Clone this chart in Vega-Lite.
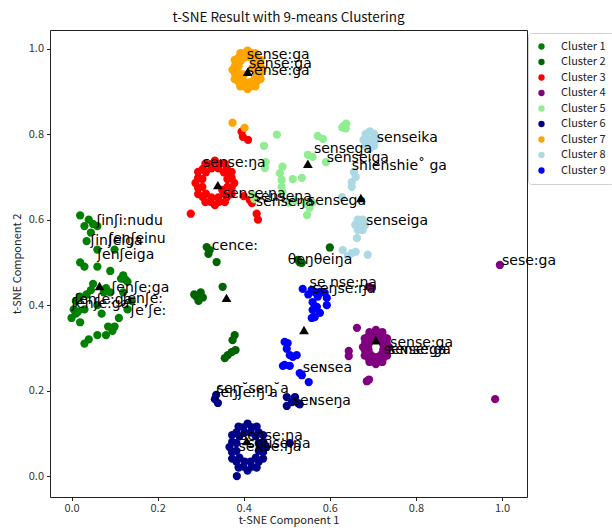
{
  "$schema": "https://vega.github.io/schema/vega-lite/v6.json",
  "autosize": "none",
  "padding": {"left": 50, "top": 30, "right": 85, "bottom": 31},
  "width": 477,
  "height": 467,
  "background": "white",
  "config": {
    "view": {"stroke": "#222", "strokeWidth": 1},
    "font": "Noto Sans CJK JP",
    "axis": {"grid": false, "domain": false, "tickColor": "#222", "tickSize": 3.5, "labelColor": "#333", "titleColor": "#222", "labelFontSize": 11, "titleFontSize": 11, "titleFontWeight": "normal", "labelFont": "Noto Sans CJK JP", "titleFont": "Noto Sans CJK JP"}
  },
  "title": {"text": "t-SNE Result with 9-means Clustering", "fontSize": 13.5, "fontWeight": "normal", "font": "Noto Sans CJK JP", "color": "#111", "offset": 6},
  "datasets": {
    "points": [
      {"x": 0.02, "y": 0.61, "cluster": "Cluster 1"}, {"x": 0.04, "y": 0.60, "cluster": "Cluster 1"}, {"x": 0.05, "y": 0.59, "cluster": "Cluster 1"}, {"x": 0.03, "y": 0.585, "cluster": "Cluster 1"}, {"x": 0.06, "y": 0.585, "cluster": "Cluster 1"}, {"x": 0.045, "y": 0.57, "cluster": "Cluster 1"}, {"x": 0.035, "y": 0.55, "cluster": "Cluster 1"}, {"x": 0.06, "y": 0.53, "cluster": "Cluster 1"}, {"x": 0.10, "y": 0.53, "cluster": "Cluster 1"}, {"x": 0.02, "y": 0.50, "cluster": "Cluster 1"}, {"x": 0.03, "y": 0.49, "cluster": "Cluster 1"}, {"x": 0.06, "y": 0.49, "cluster": "Cluster 1"}, {"x": 0.09, "y": 0.48, "cluster": "Cluster 1"}, {"x": 0.12, "y": 0.47, "cluster": "Cluster 1"}, {"x": 0.125, "y": 0.46, "cluster": "Cluster 1"}, {"x": 0.115, "y": 0.462, "cluster": "Cluster 1"}, {"x": 0.13, "y": 0.455, "cluster": "Cluster 1"}, {"x": 0.05, "y": 0.45, "cluster": "Cluster 1"}, {"x": 0.08, "y": 0.44, "cluster": "Cluster 1"}, {"x": 0.075, "y": 0.43, "cluster": "Cluster 1"}, {"x": 0.09, "y": 0.43, "cluster": "Cluster 1"}, {"x": 0.12, "y": 0.43, "cluster": "Cluster 1"}, {"x": 0.01, "y": 0.41, "cluster": "Cluster 1"}, {"x": 0.02, "y": 0.42, "cluster": "Cluster 1"}, {"x": 0.06, "y": 0.40, "cluster": "Cluster 1"}, {"x": 0.03, "y": 0.39, "cluster": "Cluster 1"}, {"x": 0.01, "y": 0.38, "cluster": "Cluster 1"}, {"x": 0.00, "y": 0.37, "cluster": "Cluster 1"}, {"x": 0.005, "y": 0.39, "cluster": "Cluster 1"}, {"x": 0.015, "y": 0.385, "cluster": "Cluster 1"}, {"x": 0.02, "y": 0.36, "cluster": "Cluster 1"}, {"x": 0.07, "y": 0.38, "cluster": "Cluster 1"}, {"x": 0.11, "y": 0.37, "cluster": "Cluster 1"}, {"x": 0.13, "y": 0.39, "cluster": "Cluster 1"}, {"x": 0.14, "y": 0.41, "cluster": "Cluster 1"}, {"x": 0.10, "y": 0.35, "cluster": "Cluster 1"}, {"x": 0.08, "y": 0.33, "cluster": "Cluster 1"}, {"x": 0.06, "y": 0.33, "cluster": "Cluster 1"}, {"x": 0.03, "y": 0.31, "cluster": "Cluster 1"}, {"x": 0.04, "y": 0.32, "cluster": "Cluster 1"}, {"x": 0.085, "y": 0.35, "cluster": "Cluster 1"}, {"x": 0.095, "y": 0.34, "cluster": "Cluster 1"}, {"x": 0.045, "y": 0.435, "cluster": "Cluster 1"}, {"x": 0.035, "y": 0.425, "cluster": "Cluster 1"}, {"x": 0.12, "y": 0.465, "cluster": "Cluster 1"},
      {"x": 0.314, "y": 0.536, "cluster": "Cluster 2"}, {"x": 0.321, "y": 0.529, "cluster": "Cluster 2"}, {"x": 0.318, "y": 0.52, "cluster": "Cluster 2"}, {"x": 0.337, "y": 0.501, "cluster": "Cluster 2"}, {"x": 0.351, "y": 0.443, "cluster": "Cluster 2"}, {"x": 0.29, "y": 0.42, "cluster": "Cluster 2"}, {"x": 0.30, "y": 0.43, "cluster": "Cluster 2"}, {"x": 0.305, "y": 0.418, "cluster": "Cluster 2"}, {"x": 0.295, "y": 0.41, "cluster": "Cluster 2"}, {"x": 0.285, "y": 0.425, "cluster": "Cluster 2"}, {"x": 0.379, "y": 0.33, "cluster": "Cluster 2"}, {"x": 0.374, "y": 0.318, "cluster": "Cluster 2"}, {"x": 0.372, "y": 0.29, "cluster": "Cluster 2"}, {"x": 0.381, "y": 0.295, "cluster": "Cluster 2"}, {"x": 0.363, "y": 0.283, "cluster": "Cluster 2"}, {"x": 0.356, "y": 0.276, "cluster": "Cluster 2"}, {"x": 0.53, "y": 0.50, "cluster": "Cluster 2"}, {"x": 0.526, "y": 0.506, "cluster": "Cluster 2"}, {"x": 0.535, "y": 0.499, "cluster": "Cluster 2"}, {"x": 0.60, "y": 0.535, "cluster": "Cluster 2"},
      {"x": 0.378, "y": 0.686, "cluster": "Cluster 3"}, {"x": 0.372, "y": 0.712, "cluster": "Cluster 3"}, {"x": 0.356, "y": 0.731, "cluster": "Cluster 3"}, {"x": 0.333, "y": 0.738, "cluster": "Cluster 3"}, {"x": 0.311, "y": 0.731, "cluster": "Cluster 3"}, {"x": 0.294, "y": 0.712, "cluster": "Cluster 3"}, {"x": 0.288, "y": 0.686, "cluster": "Cluster 3"}, {"x": 0.294, "y": 0.66, "cluster": "Cluster 3"}, {"x": 0.311, "y": 0.641, "cluster": "Cluster 3"}, {"x": 0.333, "y": 0.634, "cluster": "Cluster 3"}, {"x": 0.356, "y": 0.641, "cluster": "Cluster 3"}, {"x": 0.372, "y": 0.66, "cluster": "Cluster 3"},
      {"x": 0.372, "y": 0.698, "cluster": "Cluster 3"}, {"x": 0.361, "y": 0.719, "cluster": "Cluster 3"}, {"x": 0.343, "y": 0.73, "cluster": "Cluster 3"}, {"x": 0.323, "y": 0.73, "cluster": "Cluster 3"}, {"x": 0.305, "y": 0.719, "cluster": "Cluster 3"}, {"x": 0.294, "y": 0.698, "cluster": "Cluster 3"}, {"x": 0.294, "y": 0.674, "cluster": "Cluster 3"}, {"x": 0.305, "y": 0.653, "cluster": "Cluster 3"}, {"x": 0.323, "y": 0.642, "cluster": "Cluster 3"}, {"x": 0.343, "y": 0.642, "cluster": "Cluster 3"}, {"x": 0.361, "y": 0.653, "cluster": "Cluster 3"}, {"x": 0.372, "y": 0.674, "cluster": "Cluster 3"},
      {"x": 0.362, "y": 0.695, "cluster": "Cluster 3"}, {"x": 0.354, "y": 0.711, "cluster": "Cluster 3"}, {"x": 0.341, "y": 0.72, "cluster": "Cluster 3"}, {"x": 0.325, "y": 0.72, "cluster": "Cluster 3"}, {"x": 0.312, "y": 0.711, "cluster": "Cluster 3"}, {"x": 0.304, "y": 0.695, "cluster": "Cluster 3"}, {"x": 0.304, "y": 0.677, "cluster": "Cluster 3"}, {"x": 0.312, "y": 0.661, "cluster": "Cluster 3"}, {"x": 0.325, "y": 0.652, "cluster": "Cluster 3"}, {"x": 0.341, "y": 0.652, "cluster": "Cluster 3"}, {"x": 0.354, "y": 0.661, "cluster": "Cluster 3"}, {"x": 0.362, "y": 0.677, "cluster": "Cluster 3"},
      {"x": 0.35, "y": 0.67, "cluster": "Cluster 3"}, {"x": 0.365, "y": 0.70, "cluster": "Cluster 3"}, {"x": 0.277, "y": 0.614, "cluster": "Cluster 3"}, {"x": 0.395, "y": 0.806, "cluster": "Cluster 3"}, {"x": 0.41, "y": 0.787, "cluster": "Cluster 3"}, {"x": 0.398, "y": 0.794, "cluster": "Cluster 3"}, {"x": 0.419, "y": 0.639, "cluster": "Cluster 3"}, {"x": 0.43, "y": 0.614, "cluster": "Cluster 3"}, {"x": 0.433, "y": 0.60, "cluster": "Cluster 3"}, {"x": 0.414, "y": 0.646, "cluster": "Cluster 3"}, {"x": 0.40, "y": 0.655, "cluster": "Cluster 3"},
      {"x": 0.737, "y": 0.302, "cluster": "Cluster 4"}, {"x": 0.733, "y": 0.322, "cluster": "Cluster 4"}, {"x": 0.722, "y": 0.337, "cluster": "Cluster 4"}, {"x": 0.707, "y": 0.342, "cluster": "Cluster 4"}, {"x": 0.692, "y": 0.337, "cluster": "Cluster 4"}, {"x": 0.681, "y": 0.322, "cluster": "Cluster 4"}, {"x": 0.677, "y": 0.302, "cluster": "Cluster 4"}, {"x": 0.681, "y": 0.282, "cluster": "Cluster 4"}, {"x": 0.692, "y": 0.267, "cluster": "Cluster 4"}, {"x": 0.707, "y": 0.262, "cluster": "Cluster 4"}, {"x": 0.722, "y": 0.267, "cluster": "Cluster 4"}, {"x": 0.733, "y": 0.282, "cluster": "Cluster 4"},
      {"x": 0.732, "y": 0.311, "cluster": "Cluster 4"}, {"x": 0.725, "y": 0.326, "cluster": "Cluster 4"}, {"x": 0.714, "y": 0.335, "cluster": "Cluster 4"}, {"x": 0.7, "y": 0.335, "cluster": "Cluster 4"}, {"x": 0.689, "y": 0.326, "cluster": "Cluster 4"}, {"x": 0.682, "y": 0.311, "cluster": "Cluster 4"}, {"x": 0.682, "y": 0.293, "cluster": "Cluster 4"}, {"x": 0.689, "y": 0.278, "cluster": "Cluster 4"}, {"x": 0.7, "y": 0.269, "cluster": "Cluster 4"}, {"x": 0.714, "y": 0.269, "cluster": "Cluster 4"}, {"x": 0.725, "y": 0.278, "cluster": "Cluster 4"}, {"x": 0.732, "y": 0.293, "cluster": "Cluster 4"},
      {"x": 0.724, "y": 0.308, "cluster": "Cluster 4"}, {"x": 0.72, "y": 0.319, "cluster": "Cluster 4"}, {"x": 0.712, "y": 0.325, "cluster": "Cluster 4"}, {"x": 0.702, "y": 0.325, "cluster": "Cluster 4"}, {"x": 0.694, "y": 0.319, "cluster": "Cluster 4"}, {"x": 0.69, "y": 0.308, "cluster": "Cluster 4"}, {"x": 0.69, "y": 0.296, "cluster": "Cluster 4"}, {"x": 0.694, "y": 0.285, "cluster": "Cluster 4"}, {"x": 0.702, "y": 0.279, "cluster": "Cluster 4"}, {"x": 0.712, "y": 0.279, "cluster": "Cluster 4"}, {"x": 0.72, "y": 0.285, "cluster": "Cluster 4"}, {"x": 0.724, "y": 0.296, "cluster": "Cluster 4"},
      {"x": 0.663, "y": 0.347, "cluster": "Cluster 4"}, {"x": 0.644, "y": 0.293, "cluster": "Cluster 4"}, {"x": 0.644, "y": 0.281, "cluster": "Cluster 4"}, {"x": 0.686, "y": 0.222, "cluster": "Cluster 4"}, {"x": 0.691, "y": 0.226, "cluster": "Cluster 4"}, {"x": 0.995, "y": 0.494, "cluster": "Cluster 4"}, {"x": 0.984, "y": 0.18, "cluster": "Cluster 4"}, {"x": 0.691, "y": 0.443, "cluster": "Cluster 4"}, {"x": 0.698, "y": 0.44, "cluster": "Cluster 4"},
      {"x": 0.633, "y": 0.82, "cluster": "Cluster 5"}, {"x": 0.638, "y": 0.825, "cluster": "Cluster 5"}, {"x": 0.629, "y": 0.816, "cluster": "Cluster 5"}, {"x": 0.637, "y": 0.814, "cluster": "Cluster 5"}, {"x": 0.477, "y": 0.799, "cluster": "Cluster 5"}, {"x": 0.447, "y": 0.773, "cluster": "Cluster 5"}, {"x": 0.572, "y": 0.796, "cluster": "Cluster 5"}, {"x": 0.584, "y": 0.789, "cluster": "Cluster 5"}, {"x": 0.549, "y": 0.752, "cluster": "Cluster 5"}, {"x": 0.56, "y": 0.747, "cluster": "Cluster 5"}, {"x": 0.591, "y": 0.735, "cluster": "Cluster 5"}, {"x": 0.451, "y": 0.735, "cluster": "Cluster 5"}, {"x": 0.449, "y": 0.721, "cluster": "Cluster 5"}, {"x": 0.49, "y": 0.724, "cluster": "Cluster 5"}, {"x": 0.484, "y": 0.709, "cluster": "Cluster 5"}, {"x": 0.488, "y": 0.693, "cluster": "Cluster 5"}, {"x": 0.514, "y": 0.695, "cluster": "Cluster 5"}, {"x": 0.535, "y": 0.698, "cluster": "Cluster 5"}, {"x": 0.488, "y": 0.677, "cluster": "Cluster 5"}, {"x": 0.49, "y": 0.665, "cluster": "Cluster 5"}, {"x": 0.549, "y": 0.635, "cluster": "Cluster 5"}, {"x": 0.543, "y": 0.64, "cluster": "Cluster 5"}, {"x": 0.553, "y": 0.628, "cluster": "Cluster 5"}, {"x": 0.56, "y": 0.64, "cluster": "Cluster 5"}, {"x": 0.547, "y": 0.611, "cluster": "Cluster 5"}, {"x": 0.52, "y": 0.645, "cluster": "Cluster 5"}, {"x": 0.421, "y": 0.658, "cluster": "Cluster 5"}, {"x": 0.425, "y": 0.648, "cluster": "Cluster 5"}, {"x": 0.505, "y": 0.64, "cluster": "Cluster 5"},
      {"x": 0.451, "y": 0.068, "cluster": "Cluster 6"}, {"x": 0.445, "y": 0.096, "cluster": "Cluster 6"}, {"x": 0.43, "y": 0.116, "cluster": "Cluster 6"}, {"x": 0.409, "y": 0.123, "cluster": "Cluster 6"}, {"x": 0.388, "y": 0.116, "cluster": "Cluster 6"}, {"x": 0.373, "y": 0.096, "cluster": "Cluster 6"}, {"x": 0.367, "y": 0.068, "cluster": "Cluster 6"}, {"x": 0.373, "y": 0.041, "cluster": "Cluster 6"}, {"x": 0.388, "y": 0.02, "cluster": "Cluster 6"}, {"x": 0.409, "y": 0.013, "cluster": "Cluster 6"}, {"x": 0.43, "y": 0.02, "cluster": "Cluster 6"}, {"x": 0.445, "y": 0.041, "cluster": "Cluster 6"},
      {"x": 0.445, "y": 0.08, "cluster": "Cluster 6"}, {"x": 0.435, "y": 0.102, "cluster": "Cluster 6"}, {"x": 0.419, "y": 0.114, "cluster": "Cluster 6"}, {"x": 0.399, "y": 0.114, "cluster": "Cluster 6"}, {"x": 0.383, "y": 0.102, "cluster": "Cluster 6"}, {"x": 0.373, "y": 0.08, "cluster": "Cluster 6"}, {"x": 0.373, "y": 0.056, "cluster": "Cluster 6"}, {"x": 0.383, "y": 0.034, "cluster": "Cluster 6"}, {"x": 0.399, "y": 0.022, "cluster": "Cluster 6"}, {"x": 0.419, "y": 0.022, "cluster": "Cluster 6"}, {"x": 0.435, "y": 0.034, "cluster": "Cluster 6"}, {"x": 0.445, "y": 0.056, "cluster": "Cluster 6"},
      {"x": 0.435, "y": 0.077, "cluster": "Cluster 6"}, {"x": 0.428, "y": 0.093, "cluster": "Cluster 6"}, {"x": 0.416, "y": 0.102, "cluster": "Cluster 6"}, {"x": 0.402, "y": 0.102, "cluster": "Cluster 6"}, {"x": 0.39, "y": 0.093, "cluster": "Cluster 6"}, {"x": 0.383, "y": 0.077, "cluster": "Cluster 6"}, {"x": 0.383, "y": 0.059, "cluster": "Cluster 6"}, {"x": 0.39, "y": 0.043, "cluster": "Cluster 6"}, {"x": 0.402, "y": 0.034, "cluster": "Cluster 6"}, {"x": 0.416, "y": 0.034, "cluster": "Cluster 6"}, {"x": 0.428, "y": 0.043, "cluster": "Cluster 6"}, {"x": 0.435, "y": 0.059, "cluster": "Cluster 6"},
      {"x": 0.384, "y": 0.0, "cluster": "Cluster 6"}, {"x": 0.333, "y": 0.18, "cluster": "Cluster 6"}, {"x": 0.34, "y": 0.171, "cluster": "Cluster 6"}, {"x": 0.336, "y": 0.19, "cluster": "Cluster 6"}, {"x": 0.5, "y": 0.185, "cluster": "Cluster 6"}, {"x": 0.519, "y": 0.185, "cluster": "Cluster 6"}, {"x": 0.512, "y": 0.173, "cluster": "Cluster 6"}, {"x": 0.526, "y": 0.171, "cluster": "Cluster 6"}, {"x": 0.5, "y": 0.164, "cluster": "Cluster 6"}, {"x": 0.53, "y": 0.168, "cluster": "Cluster 6"}, {"x": 0.507, "y": 0.077, "cluster": "Cluster 6"},
      {"x": 0.444, "y": 0.951, "cluster": "Cluster 7"}, {"x": 0.439, "y": 0.974, "cluster": "Cluster 7"}, {"x": 0.427, "y": 0.99, "cluster": "Cluster 7"}, {"x": 0.409, "y": 0.996, "cluster": "Cluster 7"}, {"x": 0.392, "y": 0.99, "cluster": "Cluster 7"}, {"x": 0.379, "y": 0.974, "cluster": "Cluster 7"}, {"x": 0.374, "y": 0.951, "cluster": "Cluster 7"}, {"x": 0.379, "y": 0.929, "cluster": "Cluster 7"}, {"x": 0.392, "y": 0.912, "cluster": "Cluster 7"}, {"x": 0.409, "y": 0.906, "cluster": "Cluster 7"}, {"x": 0.427, "y": 0.912, "cluster": "Cluster 7"}, {"x": 0.439, "y": 0.929, "cluster": "Cluster 7"},
      {"x": 0.438, "y": 0.961, "cluster": "Cluster 7"}, {"x": 0.43, "y": 0.979, "cluster": "Cluster 7"}, {"x": 0.417, "y": 0.99, "cluster": "Cluster 7"}, {"x": 0.401, "y": 0.99, "cluster": "Cluster 7"}, {"x": 0.388, "y": 0.979, "cluster": "Cluster 7"}, {"x": 0.38, "y": 0.961, "cluster": "Cluster 7"}, {"x": 0.38, "y": 0.941, "cluster": "Cluster 7"}, {"x": 0.388, "y": 0.923, "cluster": "Cluster 7"}, {"x": 0.401, "y": 0.912, "cluster": "Cluster 7"}, {"x": 0.417, "y": 0.912, "cluster": "Cluster 7"}, {"x": 0.43, "y": 0.923, "cluster": "Cluster 7"}, {"x": 0.438, "y": 0.941, "cluster": "Cluster 7"},
      {"x": 0.43, "y": 0.959, "cluster": "Cluster 7"}, {"x": 0.425, "y": 0.972, "cluster": "Cluster 7"}, {"x": 0.415, "y": 0.98, "cluster": "Cluster 7"}, {"x": 0.403, "y": 0.98, "cluster": "Cluster 7"}, {"x": 0.393, "y": 0.972, "cluster": "Cluster 7"}, {"x": 0.388, "y": 0.959, "cluster": "Cluster 7"}, {"x": 0.388, "y": 0.943, "cluster": "Cluster 7"}, {"x": 0.393, "y": 0.93, "cluster": "Cluster 7"}, {"x": 0.403, "y": 0.922, "cluster": "Cluster 7"}, {"x": 0.415, "y": 0.922, "cluster": "Cluster 7"}, {"x": 0.425, "y": 0.93, "cluster": "Cluster 7"}, {"x": 0.43, "y": 0.943, "cluster": "Cluster 7"},
      {"x": 0.42, "y": 0.955, "cluster": "Cluster 7"}, {"x": 0.40, "y": 0.94, "cluster": "Cluster 7"}, {"x": 0.374, "y": 0.827, "cluster": "Cluster 7"}, {"x": 0.402, "y": 0.815, "cluster": "Cluster 7"},
      {"x": 0.708, "y": 0.787, "cluster": "Cluster 8"}, {"x": 0.703, "y": 0.801, "cluster": "Cluster 8"}, {"x": 0.693, "y": 0.807, "cluster": "Cluster 8"}, {"x": 0.683, "y": 0.801, "cluster": "Cluster 8"}, {"x": 0.678, "y": 0.787, "cluster": "Cluster 8"}, {"x": 0.683, "y": 0.773, "cluster": "Cluster 8"}, {"x": 0.693, "y": 0.767, "cluster": "Cluster 8"}, {"x": 0.703, "y": 0.773, "cluster": "Cluster 8"}, {"x": 0.693, "y": 0.787, "cluster": "Cluster 8"},
      {"x": 0.656, "y": 0.712, "cluster": "Cluster 8"}, {"x": 0.651, "y": 0.688, "cluster": "Cluster 8"}, {"x": 0.651, "y": 0.677, "cluster": "Cluster 8"}, {"x": 0.628, "y": 0.653, "cluster": "Cluster 8"}, {"x": 0.66, "y": 0.70, "cluster": "Cluster 8"},
      {"x": 0.682, "y": 0.588, "cluster": "Cluster 8"}, {"x": 0.676, "y": 0.6, "cluster": "Cluster 8"}, {"x": 0.665, "y": 0.6, "cluster": "Cluster 8"}, {"x": 0.659, "y": 0.588, "cluster": "Cluster 8"}, {"x": 0.665, "y": 0.576, "cluster": "Cluster 8"}, {"x": 0.676, "y": 0.576, "cluster": "Cluster 8"}, {"x": 0.67, "y": 0.588, "cluster": "Cluster 8"},
      {"x": 0.663, "y": 0.557, "cluster": "Cluster 8"}, {"x": 0.66, "y": 0.525, "cluster": "Cluster 8"}, {"x": 0.651, "y": 0.522, "cluster": "Cluster 8"}, {"x": 0.63, "y": 0.529, "cluster": "Cluster 8"}, {"x": 0.688, "y": 0.518, "cluster": "Cluster 8"}, {"x": 0.642, "y": 0.515, "cluster": "Cluster 8"},
      {"x": 0.537, "y": 0.438, "cluster": "Cluster 9"}, {"x": 0.558, "y": 0.436, "cluster": "Cluster 9"}, {"x": 0.577, "y": 0.431, "cluster": "Cluster 9"}, {"x": 0.588, "y": 0.429, "cluster": "Cluster 9"}, {"x": 0.593, "y": 0.417, "cluster": "Cluster 9"}, {"x": 0.572, "y": 0.42, "cluster": "Cluster 9"}, {"x": 0.56, "y": 0.407, "cluster": "Cluster 9"}, {"x": 0.57, "y": 0.396, "cluster": "Cluster 9"}, {"x": 0.56, "y": 0.389, "cluster": "Cluster 9"}, {"x": 0.577, "y": 0.382, "cluster": "Cluster 9"}, {"x": 0.565, "y": 0.372, "cluster": "Cluster 9"}, {"x": 0.593, "y": 0.40, "cluster": "Cluster 9"}, {"x": 0.558, "y": 0.37, "cluster": "Cluster 9"}, {"x": 0.566, "y": 0.43, "cluster": "Cluster 9"}, {"x": 0.55, "y": 0.425, "cluster": "Cluster 9"},
      {"x": 0.495, "y": 0.314, "cluster": "Cluster 9"}, {"x": 0.502, "y": 0.311, "cluster": "Cluster 9"}, {"x": 0.5, "y": 0.298, "cluster": "Cluster 9"}, {"x": 0.507, "y": 0.283, "cluster": "Cluster 9"}, {"x": 0.514, "y": 0.279, "cluster": "Cluster 9"}, {"x": 0.495, "y": 0.26, "cluster": "Cluster 9"}, {"x": 0.507, "y": 0.258, "cluster": "Cluster 9"}, {"x": 0.53, "y": 0.241, "cluster": "Cluster 9"}, {"x": 0.535, "y": 0.236, "cluster": "Cluster 9"}, {"x": 0.551, "y": 0.22, "cluster": "Cluster 9"}, {"x": 0.523, "y": 0.283, "cluster": "Cluster 9"}, {"x": 0.491, "y": 0.258, "cluster": "Cluster 9"}
    ],
    "centroids": [
      {"x": 0.409, "y": 0.946}, {"x": 0.34, "y": 0.681}, {"x": 0.549, "y": 0.731}, {"x": 0.672, "y": 0.651}, {"x": 0.065, "y": 0.445}, {"x": 0.36, "y": 0.417}, {"x": 0.54, "y": 0.342}, {"x": 0.707, "y": 0.318}, {"x": 0.407, "y": 0.082}
    ],
    "labels": [
      {"x": 0.407, "y": 0.977, "label": "sense:ga"}, {"x": 0.412, "y": 0.955, "label": "sense:ga"}, {"x": 0.407, "y": 0.939, "label": "sense:ga"},
      {"x": 0.305, "y": 0.724, "label": "sense:ŋa"}, {"x": 0.351, "y": 0.651, "label": "sense:ŋa"}, {"x": 0.423, "y": 0.644, "label": "senseŋa"}, {"x": 0.428, "y": 0.632, "label": "senseŋa"}, {"x": 0.549, "y": 0.635, "label": "sensega"},
      {"x": 0.563, "y": 0.756, "label": "sensega"}, {"x": 0.593, "y": 0.735, "label": "senseiga"}, {"x": 0.651, "y": 0.717, "label": "shienshie˚  ga"}, {"x": 0.709, "y": 0.782, "label": "senseika"}, {"x": 0.684, "y": 0.588, "label": "senseiga"},
      {"x": 1.0, "y": 0.494, "label": "sese:ga"}, {"x": 0.502, "y": 0.497, "label": "θeŋθeiŋa"}, {"x": 0.326, "y": 0.529, "label": "cence:"},
      {"x": 0.553, "y": 0.443, "label": "se nse:ŋa"}, {"x": 0.56, "y": 0.429, "label": "seŋse:ŋa"},
      {"x": 0.74, "y": 0.302, "label": "sense:ga"}, {"x": 0.725, "y": 0.285, "label": "seɴse:ga"}, {"x": 0.735, "y": 0.285, "label": "sense:ga"},
      {"x": 0.537, "y": 0.244, "label": "seɴsea"}, {"x": 0.514, "y": 0.166, "label": "seɴseŋa"},
      {"x": 0.337, "y": 0.194, "label": "seŋ˘seŋ˘a"}, {"x": 0.335, "y": 0.185, "label": "ʃeŋʃe:ŋ a"},
      {"x": 0.391, "y": 0.084, "label": "sense:na"}, {"x": 0.409, "y": 0.066, "label": "seɴse:na"}, {"x": 0.388, "y": 0.059, "label": "seɴse:ŋa"},
      {"x": 0.058, "y": 0.588, "label": "ʃinʃi:nudu"}, {"x": 0.044, "y": 0.541, "label": "ʃinʃeiga"}, {"x": 0.086, "y": 0.546, "label": "ʃenʃeinu"}, {"x": 0.06, "y": 0.508, "label": "ʃenʃeiga"},
      {"x": 0.093, "y": 0.431, "label": "ʃenʃe:ga"}, {"x": 0.007, "y": 0.403, "label": "ʃenʃe:ga"}, {"x": 0.0, "y": 0.393, "label": "ʃenʃe:ga"}, {"x": 0.119, "y": 0.405, "label": "ʃenʃe:"}, {"x": 0.137, "y": 0.377, "label": "ʃeʼʃe:"}
    ]
  },
  "layer": [
    {
      "data": {"name": "points"},
      "mark": {"type": "circle", "size": 68, "opacity": 1},
      "encoding": {
        "x": {"field": "x", "type": "quantitative", "scale": {"domain": [-0.05, 1.058], "nice": false, "zero": false}, "axis": {"title": "t-SNE Component 1", "values": [0, 0.2, 0.4, 0.6, 0.8, 1.0], "format": ".1f", "labelPadding": 2, "titlePadding": 1}},
        "y": {"field": "y", "type": "quantitative", "scale": {"domain": [-0.049, 1.044], "nice": false, "zero": false}, "axis": {"title": "t-SNE Component 2", "values": [0, 0.2, 0.4, 0.6, 0.8, 1.0], "format": ".1f", "labelPadding": 3, "titlePadding": 6}},
        "color": {"field": "cluster", "type": "nominal", "title": null,
          "scale": {"domain": ["Cluster 1", "Cluster 2", "Cluster 3", "Cluster 4", "Cluster 5", "Cluster 6", "Cluster 7", "Cluster 8", "Cluster 9"], "range": ["#008000", "#006400", "#ff0000", "#800080", "#90ee90", "#00008b", "#ffa500", "#add8e6", "#0000ff"]},
          "legend": {"orient": "none", "legendX": 478, "legendY": 3, "symbolType": "circle", "symbolSize": 40, "labelFontSize": 11, "labelFont": "Noto Sans CJK JP", "labelColor": "#222", "rowPadding": 3.5, "padding": 8, "strokeColor": "#d0d0d0", "fillColor": "white", "cornerRadius": 3, "labelOffset": 14, "symbolOpacity": 1}
        }
      }
    },
    {
      "data": {"name": "centroids"},
      "mark": {"type": "point", "shape": "triangle-up", "filled": true, "color": "black", "size": 95, "opacity": 1},
      "encoding": {
        "x": {"field": "x", "type": "quantitative"},
        "y": {"field": "y", "type": "quantitative"}
      }
    },
    {
      "data": {"name": "labels"},
      "mark": {"type": "text", "align": "left", "baseline": "alphabetic", "font": "DejaVu Sans", "fontSize": 14, "color": "black"},
      "encoding": {
        "x": {"field": "x", "type": "quantitative"},
        "y": {"field": "y", "type": "quantitative"},
        "text": {"field": "label", "type": "nominal"}
      }
    }
  ]
}
